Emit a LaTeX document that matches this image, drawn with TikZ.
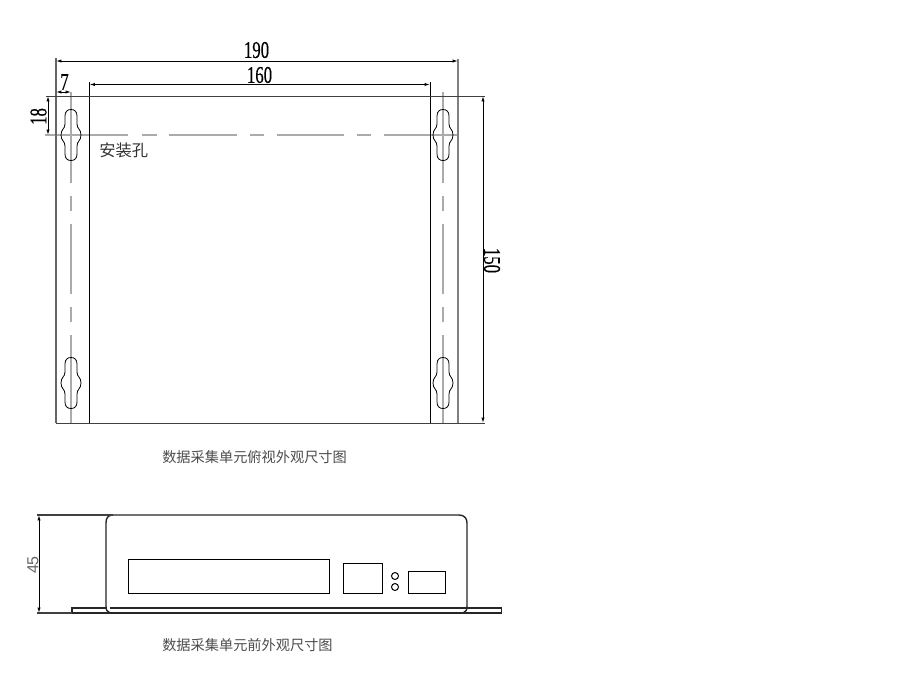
\documentclass[tikz,border=0pt]{standalone}
\usepackage{graphicx}
\usepackage{fontspec}
\setmainfont{Liberation Serif}
\newfontfamily\dimfont[FakeBold=0.4]{Liberation Serif}
\newfontfamily\cjkfont{Noto Sans CJK SC}
\usetikzlibrary{arrows.meta}
\newcommand{\dimnum}[1]{\scalebox{0.7}[1]{\dimfont\fontsize{18pt}{18pt}\selectfont #1}}
\tikzset{
  px/.style={x=0.75pt,y=-0.75pt},
  part/.style={draw=black,line width=0.75pt},
  partgray/.style={draw=black!60,line width=0.9pt},
  heavy/.style={draw=black!50,line width=1.4pt},
  thickpart/.style={draw=black!85,line width=1.05pt},
  centre/.style={draw=black!33,line width=1.1pt},
  dimline/.style={draw=black,line width=0.7pt,{Latex[length=4pt,width=2.4pt]}-{Latex[length=4pt,width=2.4pt]}},
  exten/.style={draw=black!75,line width=0.7pt},
  dimtext/.style={inner sep=0pt,text=black},
  caption/.style={inner sep=0pt,anchor=west,text=black!70,font=\cjkfont\fontsize{10.65pt}{11pt}\selectfont},
  holepic/.pic={
    \draw[draw=black,line width=0.6pt]
      (-6,-19) .. controls (-6,-23.5) and (-3.5,-25.5) .. (0,-25.5)
      .. controls (3.5,-25.5) and (6,-23.5) .. (6,-19) -- (6,-11)
      .. controls (6,-6) and (10,-6) .. (10,0)
      .. controls (10,6) and (6,6) .. (6,11) -- (6,19)
      .. controls (6,23.5) and (3.5,25.5) .. (0,25.5)
      .. controls (-3.5,25.5) and (-6,23.5) .. (-6,19) -- (-6,11)
      .. controls (-6,6) and (-10,6) .. (-10,0)
      .. controls (-10,-6) and (-6,-6) .. (-6,-11) -- cycle;
  }
}
\begin{document}
\begin{tikzpicture}[px]
\useasboundingbox (0,0) rectangle (900,693);
\fill[white] (0,0) rectangle (900,693);
% centre lines
\foreach \a/\b in {45/128,142/157,169/237,250/264,277/344,357/371,384/458}
  \draw[centre] (\a,135) -- (\b,135);
\foreach \cx in {71,443}
  \foreach \a/\b in {92/183,196/211,224/294,307/322,335/423}
    \draw[centre] (\cx,\a) -- (\cx,\b);
% top view outline
\draw[partgray] (56,58) -- (56,423);
\draw[heavy] (458,59) -- (458,423);
\draw[part] (89.5,82) -- (89.5,423);
\draw[part] (430,82) -- (430,423);
\draw[exten] (46,96) -- (485,96);
\draw[exten] (56,423) -- (485,423);
% keyholes
\pic at (71,135) {holepic};
\pic at (443,135) {holepic};
\pic at (71,383) {holepic};
\pic at (443,383) {holepic};
% dimensions
\draw[dimline] (56,61) -- (458,61);
\draw[dimline] (89.5,84.5) -- (430,84.5);
\draw[dimline] (56,92) -- (71,92);
\draw[dimline] (48,96) -- (48,135);
\draw[dimline] (483,96) -- (483,423);
\node[dimtext] (d190) at (256.5,50) {\dimnum{190}};
\node[dimtext] (d160) at (259.5,75) {\dimnum{160}};
\node[dimtext] (d7) at (64.5,82) {\dimnum{7}};
\node[dimtext,rotate=90] (d18) at (38.5,116.5) {\dimnum{18}};
\node[dimtext,rotate=-90] (d150) at (492,260.5) {\dimnum{150}};
\node[inner sep=0pt,anchor=west,text=black!80,font=\cjkfont\fontsize{12.2pt}{12pt}\selectfont] (hole) at (99,150) {安装孔};
\node[caption] (cap1) at (162,457) {数据采集单元俯视外观尺寸图};
% front view
\draw[thickpart] (72,613) -- (72,608) -- (106,608);
\draw[thickpart] (110,608) -- (501.5,608) -- (501.5,613) -- (72,613);
\draw[thickpart] (113,515) .. controls (108,515) and (106,518) .. (106,523) -- (106,606)
  .. controls (106,610) and (107,612) .. (110,613);
\draw[thickpart] (113,515) -- (459,515) .. controls (464,515) and (467,518) .. (467,523) -- (467,606)
  .. controls (467,610) and (466,612) .. (463,613);
\draw[exten,line width=1pt] (37,515) -- (113,515);
\draw[exten,line width=1pt] (37,613) -- (72,613);
\draw[dimline] (39,515) -- (39,613);
\node[inner sep=0pt,rotate=90,text=black!60,font=\fontspec{Liberation Sans}\fontsize{12pt}{12pt}\selectfont] (d45) at (33,565) {45};
\draw[part] (128,559.5) rectangle (329,593);
\draw[part] (343,563) rectangle (382,593);
\draw[part] (408,571) rectangle (445,593);
\draw[part] (395,576) circle[radius=3.5];
\draw[part] (395,587) circle[radius=3.5];
\node[caption] (cap2) at (162,645.5) {数据采集单元前外观尺寸图};
\end{tikzpicture}
\end{document}
